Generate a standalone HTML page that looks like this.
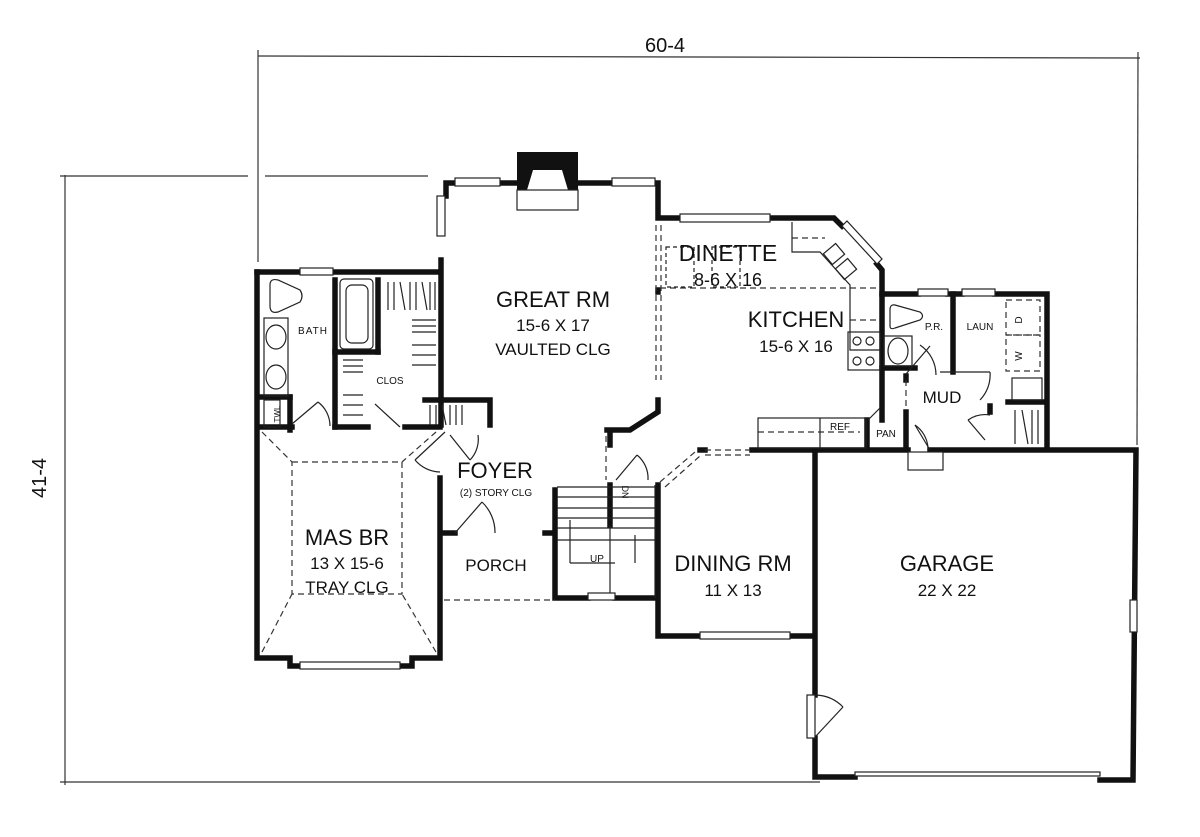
<!DOCTYPE html>
<html><head><meta charset="utf-8"><style>
html,body{margin:0;padding:0;background:#fff}
svg{display:block}
text{font-family:"Liberation Sans",sans-serif;fill:#111}
</style></head><body>
<svg width="1200" height="837" viewBox="0 0 1200 837" xmlns="http://www.w3.org/2000/svg">
<rect width="1200" height="837" fill="#fff"/>
<g stroke="#333" stroke-width="1.2" fill="none">
<line x1="258" y1="56" x2="1140" y2="58"/>
<line x1="258" y1="50" x2="258" y2="262"/>
<line x1="1138" y1="52" x2="1137" y2="445"/>
<line x1="65" y1="175" x2="65" y2="785"/>
<line x1="60" y1="176" x2="248" y2="176"/>
<line x1="265" y1="176" x2="428" y2="176"/>
<line x1="60" y1="782" x2="820" y2="782"/>
</g>
<text x="665" y="52" font-size="20" text-anchor="middle">60-4</text>
<text transform="translate(46,478) rotate(-90)" font-size="20" text-anchor="middle">41-4</text>

<g stroke="#111" stroke-width="5.5" fill="none" stroke-linecap="square">
<polyline points="257,272 300,272"/>
<polyline points="333,272 440,272"/>
<polyline points="257,272 257,658 290,658 290,666 300,666"/>
<polyline points="400,666 412,666 412,658 440,658 440,478"/>
<line x1="441" y1="260" x2="441" y2="425"/>
<polyline points="446,196 446,183 455,183"/>
<polyline points="500,183 517,183"/>
<polyline points="578,183 612,183"/>
<polyline points="655,183 658,183 658,218 680,218"/>
<polyline points="770,218 834,218 842,226"/>
<polyline points="877,264 882,270 882,420"/>
<polyline points="658,290 658,292"/>
<polyline points="658,400 658,412 630,430 607,430"/>
<polyline points="882,294 918,294"/>
<polyline points="948,294 962,294"/>
<polyline points="995,294 1047,294 1047,448"/>
<polyline points="882,368 915,368"/>
<line x1="953" y1="294" x2="953" y2="372"/>
<line x1="1008" y1="402" x2="1045" y2="402"/>
<line x1="990" y1="406" x2="990" y2="412"/>
<line x1="906" y1="376" x2="906" y2="380"/>
<line x1="906" y1="412" x2="906" y2="445"/>
<line x1="867" y1="420" x2="867" y2="448"/>
<polyline points="752,450 908,450"/>
<polyline points="930,450 1136,450 1133,780 1100,780"/>
<polyline points="855,777 815,777 815,738"/>
<line x1="815" y1="452" x2="815" y2="695"/>
<polyline points="658,485 658,636 700,636"/>
<polyline points="790,636 812,636"/>
<line x1="700" y1="450" x2="705" y2="450"/>
<polyline points="610,434 610,445"/>
<polyline points="610,485 610,525"/>
<polyline points="555,490 555,598 588,598"/>
<polyline points="615,598 655,598"/>
<line x1="444" y1="533" x2="455" y2="533"/>
<line x1="545" y1="533" x2="553" y2="533"/>
<line x1="335" y1="280" x2="335" y2="427"/>
<line x1="335" y1="352" x2="378" y2="352"/>
<line x1="378" y1="280" x2="378" y2="352"/>
<polyline points="260,427 292,427"/>
<polyline points="335,427 368,427"/>
<polyline points="405,427 440,427"/>
<polyline points="425,400 440,400 490,400 490,425"/>
<line x1="290" y1="397" x2="290" y2="430"/>
<line x1="260" y1="397" x2="290" y2="397"/>
</g>
<path d="M517,152 L578,152 L578,190 L568,190 L562,170 L533,170 L527,190 L517,190 Z" fill="#111"/>
<rect x="517" y="190" width="61" height="20" fill="none" stroke="#222" stroke-width="1.2"/>
<g fill="#fff" stroke="#222" stroke-width="1.2">
<rect x="455" y="178" width="45" height="8"/>
<rect x="612" y="178" width="43" height="8"/>
<rect x="437" y="196" width="8" height="40"/>
<rect x="300" y="268" width="33" height="7"/>
<rect x="680" y="214" width="90" height="8"/>
<rect x="918" y="289" width="30" height="7"/>
<rect x="962" y="289" width="33" height="7"/>
<rect x="300" y="662" width="100" height="7"/>
<rect x="588" y="593" width="27" height="7"/>
<rect x="700" y="632" width="90" height="7"/>
<rect x="1130" y="600" width="7" height="32"/>
<rect x="855" y="772" width="245" height="4"/>
<rect x="908" y="452" width="35" height="18"/>
<polygon points="842,226 877,264 882,259 847,221"/>
</g>
<g stroke="#333" stroke-width="1.2" fill="none" stroke-dasharray="6,4">
<rect x="292" y="462" width="110" height="132"/>
<line x1="262" y1="432" x2="292" y2="462"/>
<line x1="436" y1="432" x2="402" y2="462"/>
<line x1="262" y1="652" x2="292" y2="594"/>
<line x1="436" y1="652" x2="402" y2="594"/>
<line x1="444" y1="600" x2="555" y2="600"/>
<line x1="661" y1="225" x2="661" y2="380"/>
<line x1="656" y1="225" x2="656" y2="380"/>
<line x1="660" y1="288" x2="880" y2="288"/>
<line x1="606" y1="436" x2="606" y2="480"/>
<line x1="660" y1="482" x2="695" y2="452"/>
<line x1="665" y1="487" x2="700" y2="456"/>
<line x1="705" y1="450" x2="750" y2="450"/>
<line x1="705" y1="455" x2="750" y2="455"/>
<line x1="758" y1="432" x2="860" y2="432"/>
<line x1="850" y1="320" x2="880" y2="320"/>
<rect x="1006" y="300" width="34" height="35"/>
<rect x="1006" y="335" width="34" height="36"/>
<line x1="792" y1="238" x2="825" y2="238"/>
<line x1="906" y1="380" x2="906" y2="410"/>
</g>
<g stroke="#222" stroke-width="1.2" fill="none">
<polyline points="792,222 792,252 820,252 850,285 850,350 880,350"/>
<rect x="848" y="332" width="32" height="38"/>
<circle cx="857" cy="341" r="4"/><circle cx="870" cy="341" r="4"/>
<circle cx="857" cy="361" r="4"/><circle cx="870" cy="361" r="4"/>
<rect x="826" y="247" width="16" height="14" transform="rotate(-40 834 254)"/>
<rect x="838" y="262" width="16" height="14" transform="rotate(-40 846 269)"/>
<rect x="758" y="418" width="108" height="30"/>
<line x1="820" y1="418" x2="820" y2="448"/>
<rect x="1012" y="378" width="30" height="22"/>
<path d="M270,285 Q270,278 278,280 L300,290 Q304,296 300,302 L278,312 Q270,314 270,306 Z"/>
<rect x="264" y="318" width="24" height="78"/>
<ellipse cx="276" cy="337" rx="10" ry="12"/><ellipse cx="276" cy="377" rx="10" ry="12"/>
<rect x="340" y="279" width="33" height="70" rx="4"/>
<rect x="346" y="285" width="22" height="58" rx="6"/>
<path d="M890,310 L890,326 Q890,330 895,328 L920,320 Q925,316 920,312 L895,305 Q890,304 890,310 Z"/>
<rect x="884" y="336" width="28" height="30"/>
<ellipse cx="898" cy="351" rx="10" ry="13"/>
<line x1="292" y1="424" x2="318" y2="402"/><path d="M318,402 A30 30 0 0 1 330 426"/>
<line x1="375" y1="404" x2="400" y2="427"/>
<line x1="445" y1="432" x2="415" y2="460"/><path d="M415,460 A34 34 0 0 0 440 472"/>
<line x1="450" y1="435" x2="470" y2="460"/><path d="M470,460 A30 30 0 0 0 478 435"/>
<line x1="455" y1="533" x2="482" y2="502"/><path d="M482,502 A42 42 0 0 1 495 533"/>
<line x1="616" y1="480" x2="637" y2="455"/><path d="M637,455 A30 30 0 0 1 648 480"/>
<line x1="906" y1="374" x2="930" y2="346"/><path d="M920,345 A36 36 0 0 1 936 375"/>
<line x1="940" y1="372" x2="990" y2="372"/><path d="M990,372 A36 36 0 0 1 980 400"/>
<line x1="930" y1="450" x2="915" y2="425"/><path d="M915,425 A30 30 0 0 1 928 448"/>
<line x1="968" y1="420" x2="985" y2="440"/><path d="M968,420 A30 30 0 0 1 990 415"/>
<line x1="868" y1="420" x2="880" y2="408"/>
<rect x="807" y="695" width="8" height="43" fill="#fff"/>
<line x1="816" y1="736" x2="843" y2="707"/><path d="M816,695 A40 40 0 0 1 843 707"/>
<line x1="557" y1="487" x2="655" y2="487"/>
<line x1="557" y1="497" x2="655" y2="497"/>
<line x1="557" y1="508" x2="655" y2="508"/>
<line x1="557" y1="518" x2="655" y2="518"/>
<line x1="557" y1="528" x2="655" y2="528"/>
<line x1="557" y1="540" x2="655" y2="540"/>
<line x1="655" y1="485" x2="655" y2="598"/>
<line x1="570" y1="520" x2="570" y2="563"/>
<line x1="570" y1="563" x2="615" y2="563"/>
<line x1="610" y1="525" x2="610" y2="593"/>
<line x1="635" y1="535" x2="635" y2="563"/>
<path d="M388,282 v28 M394,282 v28 M400,282 l5,28 M410,282 v28 M416,282 v28 M422,282 l5,28 M430,282 v28 M435,282 v28"/>
<path d="M412,320 h24 M412,326 h24 M412,332 h24 M412,345 h24 M412,355 h24 M412,365 h24"/>
<path d="M343,360 h20 M343,366 h20 M343,372 h20 M343,395 h20 M343,405 h20 M343,415 h20"/>
<path d="M430,405 v20 M436,405 v20 M442,405 l4,20 M450,405 v20 M456,405 v20 M462,405 v20"/>
<path d="M1015,410 v34 M1022,410 l6,34 M1032,410 v34 M1038,410 v34"/>
<rect x="666" y="247" width="28" height="40" stroke-dasharray="4,3"/>
<rect x="712" y="247" width="28" height="40" stroke-dasharray="4,3"/>
<rect x="264" y="400" width="16" height="27"/>
</g>
<g text-anchor="middle">
<text x="553" y="307" font-size="22">GREAT RM</text>
<text x="553" y="331" font-size="17">15-6 X 17</text>
<text x="553" y="355" font-size="17">VAULTED CLG</text>
<text x="728" y="261" font-size="23">DINETTE</text>
<text x="728" y="286" font-size="18">8-6 X 16</text>
<text x="796" y="327" font-size="22">KITCHEN</text>
<text x="796" y="352" font-size="17">15-6 X 16</text>
<text x="942" y="403" font-size="17">MUD</text>
<text x="934" y="330" font-size="10">P.R.</text>
<text x="980" y="330" font-size="10">LAUN</text>
<text x="840" y="430" font-size="10">REF</text>
<text x="886" y="437" font-size="10">PAN</text>
<text x="313" y="334" font-size="10" letter-spacing="1">BATH</text>
<text x="390" y="384" font-size="10">CLOS</text>
<text x="495" y="478" font-size="22">FOYER</text>
<text x="496" y="496" font-size="10">(2) STORY CLG</text>
<text x="347" y="545" font-size="22">MAS BR</text>
<text x="347" y="569" font-size="17">13 X 15-6</text>
<text x="347" y="593" font-size="17">TRAY CLG</text>
<text x="496" y="571" font-size="17">PORCH</text>
<text x="597" y="562" font-size="10">UP</text>
<text x="733" y="571" font-size="22">DINING RM</text>
<text x="733" y="596" font-size="17">11 X 13</text>
<text x="947" y="571" font-size="22">GARAGE</text>
<text x="947" y="596" font-size="17">22 X 22</text>
<text transform="translate(1022,320) rotate(-90)" font-size="10">D</text>
<text transform="translate(1022,356) rotate(-90)" font-size="10">W</text>
<text transform="translate(280,414) rotate(-90)" font-size="8">TWL</text>
<text transform="translate(622,492) rotate(90)" font-size="9">DN</text>
</g>
</svg>
</body></html>
